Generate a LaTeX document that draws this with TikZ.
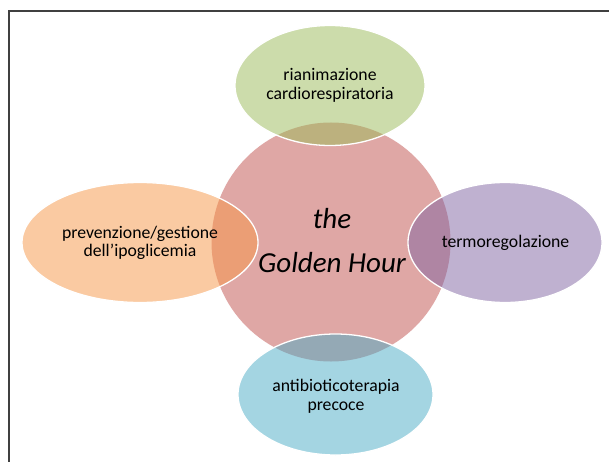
\documentclass[tikz,border=0pt]{standalone}
\usepackage{fontspec}
\setmainfont{Carlito}
\usetikzlibrary{shapes.geometric}
\definecolor{cred}{HTML}{C0504D}
\definecolor{cgreen}{HTML}{9BBB59}
\definecolor{corange}{HTML}{F79646}
\definecolor{cpurple}{HTML}{8064A2}
\definecolor{caqua}{HTML}{4BACC6}
\tikzset{
  outer/.style={ellipse, inner sep=0pt, fill opacity=0.5, draw=white, line width=1.3pt},
  lbl/.style={anchor=base, inner sep=0pt, font=\fontsize{17.7}{21}\selectfont, text=black},
  bigl/.style={anchor=base, inner sep=0pt, font=\fontsize{29}{34}\selectfont\itshape, text=black}
}
\begin{document}
\begin{tikzpicture}[x=1pt,y=-1pt]
\useasboundingbox (0,0) rectangle (609,462);
\fill[white] (0,0) rectangle (609,462);
\coordinate (fb) at (9,462);
\coordinate (ftl) at (9,11);
\coordinate (fr) at (609,11);
\draw[black!75, line width=1.3pt] (fb) -- (ftl) -- (fr);
% centre
\node[circle, inner sep=0pt, minimum size=239pt, fill=cred, fill opacity=0.5] (core) at (331,242) {};
% outer ellipses
\node[outer, fill=cgreen, minimum width=190pt, minimum height=120pt] (top) at (330,85.5) {};
\node[outer, fill=corange, minimum width=236pt, minimum height=120pt] (left) at (140,242.5) {};
\node[outer, fill=cpurple, minimum width=194pt, minimum height=120pt] (right) at (505,242.5) {};
\node[outer, fill=caqua, minimum width=195pt, minimum height=121pt] (bottom) at (335.5,394.5) {};
% texts
\node[lbl] (t1) at (330,81) {rianimazione};
\node[lbl] (t2) at (330,100) {cardiorespiratoria};
\node[lbl] (l1) at (140,238.3) {prevenzione/gestione};
\node[lbl] (l2) at (140,256.8) {dell’ipoglicemia};
\node[lbl] (r1) at (505.5,247.3) {termoregolazione};
\node[lbl] (b1) at (336,391.5) {antibioticoterapia};
\node[lbl] (b2) at (336,410) {precoce};
\node[bigl] (c1) at (332,228.3) {the};
\node[bigl] (c2) at (332,272.5) {Golden Hour};
\end{tikzpicture}
\end{document}
